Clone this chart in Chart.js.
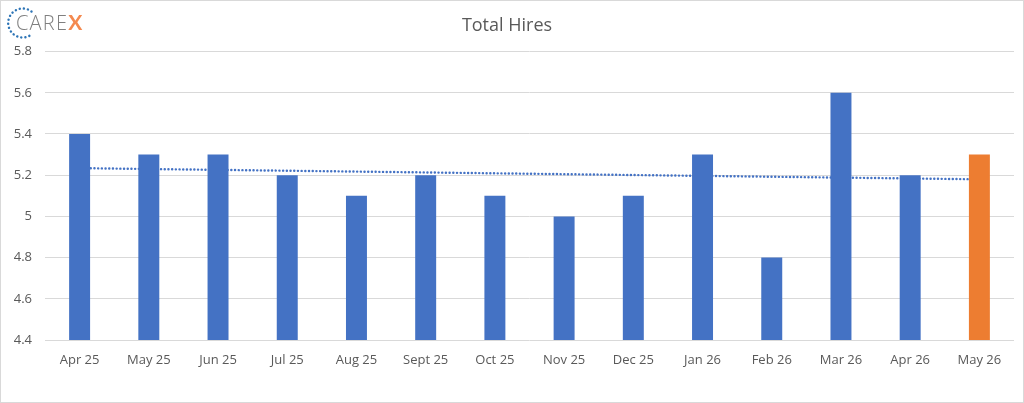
<!DOCTYPE html>
<html>
<head>
<meta charset="utf-8">
<script src="https://cdn.jsdelivr.net/npm/chart.js@4"></script>
<style>
  html, body { margin: 0; padding: 0; background: #fff; }
  #wrap { position: relative; width: 1024px; height: 403px; }
  #frame { position: absolute; left: 0; top: 0; width: 1022px; height: 401px; border: 1px solid #d9d9d9; pointer-events: none; }
  #logo { position: absolute; left: 6px; top: 6px; width: 100px; height: 34px; }
  #logo svg { position: absolute; left: 0; top: 0; }
  #logo .txt { position: absolute; left: 10px; top: 3px; font-family: "Open Sans", sans-serif; font-weight: 300;
    font-size: 20px; letter-spacing: 1.2px; color: #7f7f7f; line-height: 26px; }
  #logo .x { color: #f4894f; font-family: "Lato", sans-serif; font-weight: 700; font-size: 21px; }
</style>
</head>
<body>
<div id="wrap">
  <canvas id="myChart" width="1024" height="403"></canvas>
  <div id="logo">
    <svg width="34" height="34" viewBox="0 0 34 34">
      <path d="M 25.5 5.5 A 14.5 14.5 0 1 0 25.5 28.5" fill="none" stroke="#2e75b6" stroke-width="2.4"
        stroke-linecap="round" stroke-dasharray="0.1 4"/>
    </svg>
    <div class="txt">CARE<span class="x">X</span></div>
  </div>
  <div id="frame"></div>
</div>
<script>
const labels = ["Apr 25", "May 25", "Jun 25", "Jul 25", "Aug 25", "Sept 25", "Oct 25",
  "Nov 25", "Dec 25", "Jan 26", "Feb 26", "Mar 26", "Apr 26", "May 26"];
const hires = [5.4, 5.3, 5.3, 5.2, 5.1, 5.2, 5.1, 5.0, 5.1, 5.3, 4.8, 5.6, 5.2, 5.3];
const yTicks = [4.4, 4.6, 4.8, 5, 5.2, 5.4, 5.6, 5.8];

const blue = "#4472c4";
const orange = "#ed7d31";
const barColors = hires.map((v, i) => i === hires.length - 1 ? orange : blue);

// linear trendline, like excel does it
function trend(vals) {
  const n = vals.length;
  const mx = (n - 1) / 2;
  const my = vals.reduce((a, b) => a + b, 0) / n;
  let sxy = 0, sxx = 0;
  vals.forEach((v, i) => { sxy += (i - mx) * (v - my); sxx += (i - mx) * (i - mx); });
  const k = sxy / sxx;
  return vals.map((v, i) => my + k * (i - mx));
}
const trendLine = trend(hires);

const txtColor = "#595959";
const gridColor = "#d9d9d9";
const font = "'Open Sans', sans-serif";

new Chart(document.getElementById("myChart"), {
  data: {
    labels: labels,
    datasets: [
      {
        type: "bar",
        label: "Total Hires",
        data: hires,
        backgroundColor: barColors,
        barPercentage: 1,
        categoryPercentage: 0.303,
        order: 1
      },
      {
        type: "line",
        label: "Trend",
        data: trendLine,
        borderColor: blue,
        borderWidth: 2.4,
        borderDash: [0.1, 3.6],
        borderCapStyle: "round",
        pointRadius: 0,
        fill: false,
        order: 2
      }
    ]
  },
  options: {
    responsive: false,
    animation: false,
    layout: { padding: { left: 0, right: 10, top: 0, bottom: 0 } },
    plugins: {
      legend: { display: false },
      tooltip: { enabled: false },
      title: {
        display: true,
        text: "Total Hires",
        color: txtColor,
        font: { family: font, size: 18, weight: "normal" },
        padding: { top: 15, bottom: 15 }
      }
    },
    scales: {
      x: {
        grid: { display: false },
        border: { display: false },
        ticks: { color: txtColor, font: { family: font, size: 13 }, padding: 4, maxRotation: 0 },
        afterFit: (s) => { s.height = 63; }
      },
      y: {
        min: 4.4,
        max: 5.8,
        afterBuildTicks: (s) => { s.ticks = yTicks.map(v => ({ value: v })); },
        grid: { color: gridColor, lineWidth: 1, drawTicks: false },
        border: { display: false },
        ticks: {
          color: txtColor,
          font: { family: font, size: 13 },
          padding: 13,
          callback: (v) => String(Math.round(v * 10) / 10)
        },
        afterFit: (s) => { s.width = 45; }
      }
    }
  }
});
</script>
</body>
</html>
